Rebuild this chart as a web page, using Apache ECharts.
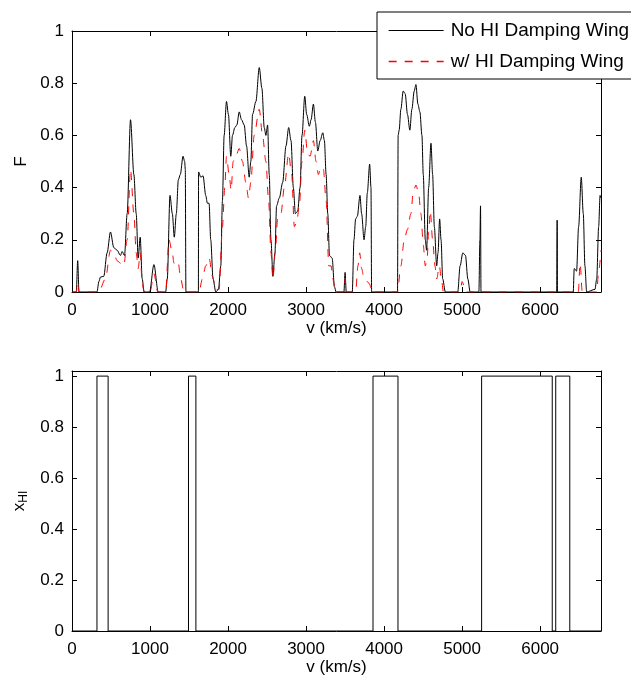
<!DOCTYPE html>
<html>
<head>
<meta charset="utf-8">
<script src="https://cdn.jsdelivr.net/npm/echarts@6/dist/echarts.min.js"></script>
<style>
  html, body { margin: 0; padding: 0; background: #fff; }
  #chart { width: 631px; height: 679px; }
</style>
</head>
<body>
<div id="chart"></div>
<script>
// transmitted flux without the damping wing: [v (km/s), F]
var fluxNoWing = [
  [0, 0], [55, 0], [73, 0.12], [90, 0], [320, 0], [345, 0.04], [364, 0.057], [407, 0.06],
  [450, 0.15], [493, 0.23], [536, 0.17], [578, 0.16], [621, 0.14], [643, 0.155], [673, 0.14],
  [707, 0.3], [750, 0.66], [793, 0.45], [823, 0.3], [848, 0.13], [874, 0.21], [900, 0.05],
  [925, 0], [994, 0], [1050, 0.105], [1105, 0], [1200, 0], [1221, 0.05], [1256, 0.37],
  [1286, 0.3], [1311, 0.21], [1337, 0.3], [1363, 0.43], [1388, 0.45], [1423, 0.52],
  [1444, 0.5], [1452, 0.47], [1460, 0], [1620, 0], [1622, 0.46], [1650, 0.44], [1680, 0.445],
  [1714, 0.37], [1735, 0.34], [1757, 0.34], [1778, 0.2], [1808, 0.05], [1843, 0], [1877, 0.01],
  [1907, 0.1], [1928, 0.35], [1950, 0.6], [1980, 0.73], [2005, 0.68], [2035, 0.52], [2057, 0.6],
  [2087, 0.63], [2113, 0.64], [2143, 0.69], [2173, 0.66], [2207, 0.64], [2237, 0.56],
  [2271, 0.44], [2292, 0.5], [2314, 0.68], [2357, 0.73], [2400, 0.86], [2434, 0.78],
  [2464, 0.63], [2485, 0.6], [2507, 0.64], [2528, 0.45], [2550, 0.2], [2575, 0.06],
  [2601, 0.15], [2622, 0.33], [2657, 0.36], [2700, 0.42], [2743, 0.56], [2777, 0.63],
  [2807, 0.58], [2837, 0.4], [2863, 0.3], [2893, 0.31], [2923, 0.4], [2948, 0.6], [2983, 0.75],
  [3008, 0.68], [3042, 0.635], [3064, 0.66], [3094, 0.72], [3120, 0.65], [3150, 0.54],
  [3180, 0.58], [3214, 0.61], [3235, 0.58], [3257, 0.45], [3278, 0.3], [3300, 0.14],
  [3334, 0.13], [3364, 0.02], [3385, 0], [3485, 0], [3500, 0.075], [3515, 0], [3592, 0],
  [3614, 0.2], [3635, 0.28], [3657, 0.29], [3691, 0.37], [3712, 0.3], [3743, 0.2], [3764, 0.25],
  [3785, 0.38], [3815, 0.49], [3832, 0.4], [3840, 0], [4172, 0], [4180, 0.6], [4193, 0.62],
  [4215, 0.7], [4245, 0.77], [4270, 0.76], [4300, 0.68], [4330, 0.62], [4356, 0.7], [4386, 0.77],
  [4408, 0.795], [4433, 0.72], [4459, 0.69], [4485, 0.6], [4502, 0.45], [4528, 0.2], [4545, 0.16],
  [4571, 0.4], [4601, 0.57], [4622, 0.45], [4644, 0.25], [4674, 0.1], [4691, 0.15], [4712, 0.28],
  [4730, 0.2], [4751, 0.05], [4785, 0], [4944, 0], [4974, 0.1], [5009, 0.15], [5043, 0.14],
  [5073, 0.05], [5103, 0], [5215, 0], [5228, 0.2], [5236, 0.33], [5242, 0], [6212, 0],
  [6218, 0.275], [6222, 0], [6424, 0], [6437, 0.09], [6467, 0.08], [6493, 0.25], [6527, 0.44],
  [6553, 0.3], [6574, 0.1], [6596, 0], [6703, 0.01], [6725, 0.05], [6750, 0.25], [6768, 0.37],
  [6780, 0.36]
];

// transmitted flux with the damping wing
var fluxWing = [
  [0, 0], [55, 0], [73, 0.035], [90, 0], [343, 0], [428, 0.05], [493, 0.16], [536, 0.15],
  [578, 0.12], [621, 0.11], [664, 0.1], [707, 0.2], [750, 0.47], [793, 0.3], [823, 0.15],
  [848, 0.09], [874, 0.15], [900, 0.03], [925, 0], [1000, 0], [1050, 0.07], [1100, 0],
  [1200, 0], [1243, 0.2], [1286, 0.15], [1307, 0.11], [1337, 0.12], [1363, 0.11], [1393, 0.05],
  [1435, 0], [1628, 0], [1671, 0.05], [1714, 0.1], [1757, 0.13], [1800, 0.06], [1843, 0.01],
  [1885, 0.01], [1928, 0.25], [1958, 0.4], [1980, 0.52], [2014, 0.45], [2040, 0.39], [2065, 0.5],
  [2100, 0.52], [2143, 0.55], [2185, 0.5], [2228, 0.42], [2262, 0.36], [2292, 0.42], [2335, 0.6],
  [2400, 0.7], [2442, 0.6], [2485, 0.5], [2520, 0.35], [2550, 0.15], [2575, 0.05], [2605, 0.15],
  [2635, 0.28], [2678, 0.3], [2721, 0.4], [2777, 0.53], [2815, 0.45], [2850, 0.25], [2880, 0.27],
  [2914, 0.33], [2948, 0.5], [2983, 0.62], [3021, 0.53], [3051, 0.52], [3094, 0.58], [3128, 0.5],
  [3158, 0.45], [3192, 0.48], [3222, 0.47], [3257, 0.35], [3291, 0.1], [3321, 0.1], [3343, 0.05],
  [3377, 0], [3490, 0], [3500, 0.05], [3512, 0], [3635, 0], [3665, 0.1], [3687, 0.15],
  [3712, 0.09], [3743, 0.05], [3785, 0.04], [3815, 0.03], [3840, 0], [4172, 0], [4215, 0.1],
  [4258, 0.2], [4300, 0.24], [4343, 0.3], [4373, 0.38], [4408, 0.41], [4442, 0.38], [4472, 0.3],
  [4502, 0.18], [4528, 0.1], [4550, 0.12], [4571, 0.23], [4592, 0.31], [4622, 0.2], [4652, 0.1],
  [4674, 0.05], [4708, 0.1], [4734, 0.05], [4760, 0], [4974, 0], [5000, 0.04], [5030, 0.02],
  [5050, 0], [6489, 0], [6512, 0.11], [6540, 0], [6725, 0], [6750, 0.08], [6780, 0.16]
];

// neutral regions (x_HI = 1) as [start, end] in km/s
var neutralStart = [320, 1493, 3858, 5250, 6200];
var neutralEnd = [463, 1588, 4178, 6155, 6380];

var vMax = 6780;
var xTicks = 1000;
var fTicks = 0.2;

var xhi = [[0, 0]];
for (var i = 0; i < neutralStart.length; i++) {
  xhi.push([neutralStart[i], 0], [neutralStart[i], 1], [neutralEnd[i], 1], [neutralEnd[i], 0]);
}
xhi.push([vMax, 0]);

var font = 'Liberation Sans, Arial, sans-serif';
var txt = { color: '#000', fontFamily: font, fontSize: 17 };
var blackLine = { color: '#000', width: 1 };
var redDash = { color: '#ff0000', width: 1, type: [8, 8] };

function xAxisFor(grid, withName) {
  return [{
    type: 'value', gridIndex: grid, min: 0, max: vMax, interval: xTicks, position: 'bottom',
    name: withName ? 'v (km/s)' : '', nameLocation: 'middle', nameGap: 27, nameTextStyle: txt,
    axisLine: { show: true, onZero: false, lineStyle: { color: '#000', width: 1 } },
    axisTick: { inside: true, length: 5, lineStyle: { color: '#000' } },
    axisLabel: Object.assign({
      margin: 10, showMaxLabel: false,
      formatter: function (val) { return val % xTicks === 0 ? String(val) : ''; }
    }, txt),
    splitLine: { show: false }
  }, {
    type: 'value', gridIndex: grid, min: 0, max: vMax, interval: xTicks, position: 'top',
    axisLine: { show: true, onZero: false, lineStyle: { color: '#000', width: 1 } },
    axisTick: { inside: true, length: 5, lineStyle: { color: '#000' } },
    axisLabel: { show: false }, splitLine: { show: false }
  }];
}

function yAxisFor(grid, max, name, gap) {
  return [{
    type: 'value', gridIndex: grid, min: 0, max: max, interval: fTicks, position: 'left',
    name: name, nameLocation: 'middle', nameGap: gap, nameRotate: 90,
    nameTextStyle: Object.assign({
      rich: {
        b: { fontFamily: font, fontSize: 17, color: '#000' },
        s: { fontFamily: font, fontSize: 12, color: '#000', padding: [9, 0, 0, 0] }
      }
    }, txt),
    axisLine: { show: true, onZero: false, lineStyle: { color: '#000', width: 1 } },
    axisTick: { inside: true, length: 5, lineStyle: { color: '#000' } },
    axisLabel: Object.assign({
      margin: 8,
      formatter: function (val) { return Math.abs(val * 5 - Math.round(val * 5)) < 1e-6 ? String(+val.toFixed(1)) : ''; }
    }, txt),
    splitLine: { show: false }
  }, {
    type: 'value', gridIndex: grid, min: 0, max: max, interval: fTicks, position: 'right',
    axisLine: { show: true, onZero: false, lineStyle: { color: '#000', width: 1 } },
    axisTick: { inside: true, length: 5, lineStyle: { color: '#000' } },
    axisLabel: { show: false }, splitLine: { show: false }
  }];
}

var chart = echarts.init(document.getElementById('chart'));
chart.setOption({
  animation: false,
  backgroundColor: '#fff',
  grid: [
    { left: 72, right: 30, top: 31, height: 261 },
    { left: 72, right: 30, top: 371, height: 260 }
  ],
  xAxis: xAxisFor(0, true).concat(xAxisFor(1, true)),
  yAxis: yAxisFor(0, 1, 'F', 38).concat(yAxisFor(1, 1.02, '{b|x}{s|HI}', 38)),
  legend: {
    data: [
      { name: 'No HI Damping Wing', lineStyle: { color: '#000', width: 1 } },
      { name: 'w/ HI Damping Wing', lineStyle: { color: '#ff0000', width: 1.3, type: [8, 8] } }
    ],
    orient: 'vertical',
    left: 377, top: 12,
    padding: [9, 60, 8, 11],
    itemWidth: 55, itemHeight: 14, itemGap: 12,
    itemStyle: { color: 'rgba(0,0,0,0)', borderWidth: 0 },
    backgroundColor: '#fff',
    borderColor: '#000', borderWidth: 1, borderRadius: 0,
    textStyle: Object.assign({}, txt, { fontSize: 19, padding: [0, 0, 0, 2] })
  },
  series: [{
    name: 'No HI Damping Wing', type: 'line', xAxisIndex: 0, yAxisIndex: 0,
    data: fluxNoWing, symbol: 'none', color: '#000',
    smooth: 0.3, smoothMonotone: 'x',
    lineStyle: blackLine
  }, {
    name: 'w/ HI Damping Wing', type: 'line', xAxisIndex: 0, yAxisIndex: 0,
    data: fluxWing, symbol: 'none', color: '#ff0000',
    smooth: 0.3, smoothMonotone: 'x',
    lineStyle: redDash
  }, {
    name: 'xHI', type: 'line', xAxisIndex: 2, yAxisIndex: 2,
    data: xhi, symbol: 'none',
    lineStyle: blackLine
  }]
});
</script>
</body>
</html>
